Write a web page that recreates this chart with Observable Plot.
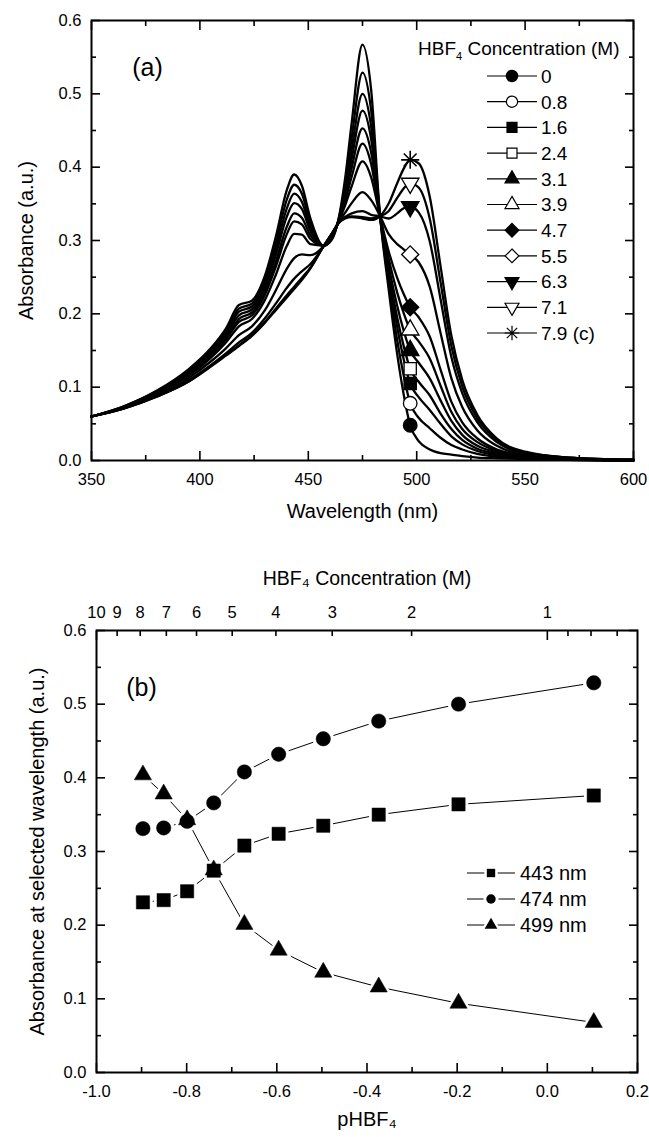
<!DOCTYPE html>
<html><head><meta charset="utf-8">
<script src="https://cdn.jsdelivr.net/npm/d3@7"></script>
<script src="https://cdn.jsdelivr.net/npm/@observablehq/plot@0.6"></script>
<style>
body{margin:0;background:#fff;}
#chart{width:649px;}
#chart svg{display:block;}
</style></head><body><div id="chart"></div>
<script>
// ---------- Panel (a): absorption spectra ----------
const wavelengths = [350, 365, 380, 395, 405, 412, 418, 424, 430, 435, 440, 443.5, 447, 451, 457, 461, 464, 467, 470, 475, 479, 483, 487, 491, 494, 497, 501, 506, 511, 516, 521, 528, 537, 550, 570, 600];
const concLabels = ["0", "0.8", "1.6", "2.4", "3.1", "3.9", "4.7", "5.5", "6.3", "7.1", "7.9 (c)"];
const abs_0_0 = [0.060, 0.074, 0.095, 0.125, 0.153, 0.180, 0.212, 0.218, 0.252, 0.305, 0.368, 0.390, 0.375, 0.330, 0.293, 0.302, 0.330, 0.385, 0.460, 0.567, 0.505, 0.337, 0.235, 0.145, 0.090, 0.048, 0.026, 0.015, 0.010, 0.008, 0.006, 0.004, 0.003, 0.002, 0.001, 0.000];
const abs_0_8 = [0.060, 0.074, 0.094, 0.123, 0.151, 0.177, 0.207, 0.214, 0.246, 0.296, 0.355, 0.376, 0.364, 0.324, 0.293, 0.303, 0.329, 0.376, 0.440, 0.529, 0.477, 0.336, 0.245, 0.164, 0.116, 0.078, 0.058, 0.044, 0.031, 0.021, 0.015, 0.009, 0.005, 0.003, 0.001, 0.000];
const abs_1_6 = [0.060, 0.073, 0.094, 0.122, 0.149, 0.174, 0.203, 0.210, 0.241, 0.288, 0.343, 0.364, 0.353, 0.318, 0.293, 0.304, 0.328, 0.369, 0.424, 0.500, 0.455, 0.336, 0.253, 0.182, 0.138, 0.105, 0.086, 0.069, 0.050, 0.033, 0.022, 0.013, 0.007, 0.004, 0.002, 0.000];
const abs_2_4 = [0.060, 0.073, 0.093, 0.121, 0.147, 0.171, 0.198, 0.206, 0.236, 0.280, 0.332, 0.351, 0.343, 0.313, 0.293, 0.305, 0.328, 0.364, 0.411, 0.477, 0.438, 0.335, 0.260, 0.195, 0.156, 0.125, 0.107, 0.089, 0.064, 0.043, 0.028, 0.016, 0.009, 0.004, 0.002, 0.000];
const abs_3_1 = [0.060, 0.073, 0.092, 0.119, 0.145, 0.167, 0.193, 0.202, 0.230, 0.271, 0.318, 0.337, 0.331, 0.307, 0.293, 0.306, 0.327, 0.359, 0.399, 0.453, 0.420, 0.335, 0.267, 0.211, 0.177, 0.150, 0.133, 0.112, 0.082, 0.054, 0.035, 0.020, 0.011, 0.005, 0.002, 0.000];
const abs_3_9 = [0.060, 0.073, 0.092, 0.118, 0.143, 0.165, 0.189, 0.198, 0.226, 0.264, 0.308, 0.326, 0.322, 0.302, 0.293, 0.307, 0.327, 0.354, 0.387, 0.432, 0.404, 0.335, 0.276, 0.229, 0.201, 0.178, 0.162, 0.139, 0.102, 0.066, 0.043, 0.025, 0.013, 0.006, 0.002, 0.000];
const abs_4_7 = [0.060, 0.072, 0.091, 0.116, 0.140, 0.161, 0.183, 0.193, 0.219, 0.253, 0.292, 0.309, 0.308, 0.295, 0.293, 0.307, 0.326, 0.348, 0.374, 0.408, 0.386, 0.334, 0.286, 0.249, 0.227, 0.209, 0.195, 0.169, 0.124, 0.080, 0.052, 0.030, 0.015, 0.007, 0.002, 0.000];
const abs_5_5 = [0.060, 0.072, 0.089, 0.113, 0.135, 0.153, 0.171, 0.183, 0.205, 0.232, 0.261, 0.276, 0.281, 0.280, 0.292, 0.309, 0.325, 0.338, 0.351, 0.366, 0.355, 0.334, 0.309, 0.295, 0.288, 0.281, 0.270, 0.237, 0.174, 0.112, 0.073, 0.041, 0.020, 0.008, 0.003, 0.001];
const abs_6_3 = [0.060, 0.071, 0.088, 0.110, 0.130, 0.146, 0.161, 0.174, 0.194, 0.214, 0.235, 0.248, 0.258, 0.268, 0.292, 0.310, 0.324, 0.332, 0.337, 0.340, 0.335, 0.333, 0.330, 0.337, 0.344, 0.346, 0.338, 0.299, 0.220, 0.141, 0.092, 0.052, 0.025, 0.010, 0.004, 0.001];
const abs_7_1 = [0.060, 0.071, 0.087, 0.108, 0.129, 0.144, 0.157, 0.171, 0.189, 0.207, 0.225, 0.237, 0.249, 0.263, 0.292, 0.310, 0.324, 0.331, 0.333, 0.332, 0.330, 0.333, 0.340, 0.358, 0.371, 0.378, 0.372, 0.330, 0.243, 0.156, 0.101, 0.057, 0.028, 0.011, 0.004, 0.001];
const abs_7_9 = [0.060, 0.071, 0.087, 0.108, 0.128, 0.143, 0.156, 0.170, 0.188, 0.205, 0.222, 0.234, 0.246, 0.262, 0.292, 0.310, 0.324, 0.330, 0.332, 0.330, 0.328, 0.333, 0.350, 0.378, 0.398, 0.410, 0.405, 0.360, 0.265, 0.170, 0.110, 0.062, 0.030, 0.012, 0.004, 0.001];
const markerWavelength = 497;
const xTicksA = [350, 400, 450, 500, 550, 600];
const xMinorA = [375, 425, 475, 525, 575];
const yTicks = [0, 0.1, 0.2, 0.3, 0.4, 0.5, 0.6];
const yMinor = [0.05, 0.15, 0.25, 0.35, 0.45, 0.55];

// ---------- Panel (b): absorbance vs pHBF4 ----------
const pHBF4 = [-0.897, -0.851, -0.799, -0.740, -0.672, -0.596, -0.497, -0.374, -0.197, 0.103];
const abs443 = [0.231, 0.234, 0.246, 0.274, 0.308, 0.324, 0.335, 0.350, 0.364, 0.376];
const abs474 = [0.331, 0.332, 0.341, 0.366, 0.408, 0.432, 0.453, 0.477, 0.500, 0.529];
const abs499 = [0.404, 0.378, 0.343, 0.275, 0.201, 0.166, 0.136, 0.116, 0.094, 0.068];
const seriesB = ["443 nm", "474 nm", "499 nm"];
const xTicksB = [-1.0, -0.8, -0.6, -0.4, -0.2, 0.0, 0.2];
const xMinorB = [-0.9, -0.7, -0.5, -0.3, -0.1, 0.1];
const topLabelConc = [10, 9, 8, 7, 6, 5, 4, 3, 2, 1];
const topMajorConc = [10, 1];
const topMinorConc = [9, 8, 7, 6, 5, 4, 3, 2, 0.9, 0.8, 0.7];

// ---------- styles ----------
const font = "'Liberation Sans', Arial, Helvetica, sans-serif";
const sqrt3 = Math.sqrt(3);
const triangleDown = {draw(ctx, size) {
  const y = -Math.sqrt(size / (sqrt3 * 3));
  ctx.moveTo(0, -y * 2); ctx.lineTo(-sqrt3 * y, y); ctx.lineTo(sqrt3 * y, y); ctx.closePath();
}};
const star = {draw(ctx, size) {
  const r = Math.sqrt(size) * 0.6, d = r * Math.SQRT1_2;
  ctx.moveTo(0, -r); ctx.lineTo(0, r); ctx.moveTo(-r, 0); ctx.lineTo(r, 0);
  ctx.moveTo(-d, -d); ctx.lineTo(d, d); ctx.moveTo(-d, d); ctx.lineTo(d, -d);
}};
const symA = ["circle", "circle", "square", "square", "triangle", "triangle", "diamond2", "diamond2", triangleDown, triangleDown, star];
const d3SymA = [d3.symbolCircle, d3.symbolCircle, d3.symbolSquare, d3.symbolSquare, d3.symbolTriangle, d3.symbolTriangle, d3.symbolDiamond2, d3.symbolDiamond2, triangleDown, triangleDown, star];
const filledA = [true, false, true, false, true, false, true, false, true, false, null];
const rA = [6.8, 6.8, 6.9, 6.9, 6.5, 6.5, 7.7, 7.7, 6.5, 6.5, 8.5];
const symB = ["square", "circle", "triangle"];
const d3SymB = [d3.symbolSquare, d3.symbolCircle, d3.symbolTriangle];
const rB = [7.5, 7.2, 6.4];
const fmt1 = d => d3.format(".1f")(d).replace("\u2212", "-");

const spectra = [abs_0_0, abs_0_8, abs_1_6, abs_2_4, abs_3_1, abs_3_9, abs_4_7, abs_5_5, abs_6_3, abs_7_1, abs_7_9];
const spectraRows = spectra.flatMap((arr, k) => arr.map((a, i) => ({series: k, nm: wavelengths[i], A: a})));
const iMark = wavelengths.indexOf(markerWavelength);
const markerRows = spectra.map((arr, k) => ({series: k, nm: markerWavelength, A: arr[iMark]}));

function inwardX(major, minor, anchorList) {
  return anchorList.flatMap(anchor => [
    Plot.axisX({anchor, ticks: major, tickSize: -9, tickFormat: () => "", label: null, strokeWidth: 1.6}),
    Plot.axisX({anchor, ticks: minor, tickSize: -5, tickFormat: () => "", label: null, strokeWidth: 1.6})
  ]);
}
function inwardY(major, minor) {
  return ["left", "right"].flatMap(anchor => [
    Plot.axisY({anchor, ticks: major, tickSize: -9, tickFormat: () => "", label: null, strokeWidth: 1.6}),
    Plot.axisY({anchor, ticks: minor, tickSize: -5, tickFormat: () => "", label: null, strokeWidth: 1.6})
  ]);
}

function legendA(index, scales, values, dims) {
  const right = dims.width - dims.marginRight, top = dims.marginTop;
  const g = d3.create("svg:g").attr("font-family", font).attr("font-size", 19).attr("fill", "black").attr("text-anchor", "start");
  const t = g.append("text").attr("x", right - 215).attr("y", top + 35);
  t.append("tspan").text("HBF");
  t.append("tspan").attr("font-size", 11).attr("dy", 5).text("4");
  t.append("tspan").attr("dy", -5).text(" Concentration (M)");
  concLabels.forEach((lab, k) => {
    const y = top + 56 + 25.7 * k;
    g.append("line").attr("x1", right - 146).attr("x2", right - 96).attr("y1", y).attr("y2", y).attr("stroke", "black").attr("stroke-width", 1.2);
    const size = k === 10 ? 150 : (k >= 4 && k <= 5) || k >= 8 ? 85 : (k === 6 || k === 7) ? 120 : 100;
    g.append("path").attr("transform", `translate(${right - 121},${y})`)
      .attr("d", d3.symbol(d3SymA[k], size)())
      .attr("fill", filledA[k] === null ? "none" : filledA[k] ? "black" : "white")
      .attr("stroke", "black").attr("stroke-width", 1.2);
    g.append("text").attr("x", right - 92).attr("y", y).attr("dy", "0.36em").text(lab);
  });
  return g.node();
}

const plotA = Plot.plot({
  width: 649, height: 540,
  marginLeft: 91, marginRight: 16, marginTop: 20, marginBottom: 80,
  style: {fontFamily: font, fontSize: "16.5px", color: "black", background: "white"},
  x: {domain: [350, 600]},
  y: {domain: [0, 0.6]},
  marks: [
    Plot.line(spectraRows, {x: "nm", y: "A", z: "series", stroke: "black", strokeWidth: 2.3, curve: "monotone-x"}),
    ...markerRows.map((row, k) => Plot.dot([row], {
      x: "nm", y: "A", symbol: symA[k], r: rA[k],
      fill: filledA[k] === null ? "none" : filledA[k] ? "black" : "white",
      stroke: "black", strokeWidth: filledA[k] === null ? 1.6 : 1.3
    })),
    Plot.frame({stroke: "black", strokeWidth: 2}),
    ...inwardX(xTicksA, xMinorA, ["bottom", "top"]),
    ...inwardY(yTicks, yMinor),
    Plot.axisX({anchor: "bottom", ticks: xTicksA, tickSize: 0, tickPadding: 13, label: null, tickFormat: d3.format("d")}),
    Plot.axisY({anchor: "left", ticks: yTicks, tickSize: 0, tickPadding: 10, label: null, tickFormat: fmt1}),
    Plot.text(["(a)"], {text: d => d, frameAnchor: "top-left", dx: 56, dy: 38, fontSize: 25, textAnchor: "middle"}),
    Plot.text(["Wavelength (nm)"], {text: d => d, frameAnchor: "bottom", dy: 57, fontSize: 20, textAnchor: "middle"}),
    Plot.text(["Absorbance (a.u.)"], {text: d => d, frameAnchor: "left", dx: -65, rotate: -90, fontSize: 20, textAnchor: "middle"}),
    legendA
  ]
});

// ---------- Panel (b) ----------
const valuesB = [abs443, abs474, abs499];
const rowsB = valuesB.map(vals => pHBF4.map((p, i) => ({p, A: vals[i]})));

function legendB(index, scales, values, dims) {
  const right = dims.width - dims.marginRight, top = dims.marginTop;
  const g = d3.create("svg:g").attr("font-family", font).attr("font-size", 20).attr("fill", "black").attr("text-anchor", "start");
  seriesB.forEach((lab, k) => {
    const y = top + 243 + 26 * k;
    g.append("line").attr("x1", right - 170).attr("x2", right - 122).attr("y1", y).attr("y2", y).attr("stroke", "black").attr("stroke-width", 1);
    g.append("path").attr("transform", `translate(${right - 146},${y})`)
      .attr("d", d3.symbol(d3SymB[k], 180)()).attr("fill", "white");
    g.append("path").attr("transform", `translate(${right - 146},${y})`)
      .attr("d", d3.symbol(d3SymB[k], 70)()).attr("fill", "black");
    g.append("text").attr("x", right - 117).attr("y", y).attr("dy", "0.36em").text(lab);
  });
  return g.node();
}

const toP = c => -Math.log10(c);
const plotB = Plot.plot({
  width: 649, height: 597,
  marginLeft: 96, marginRight: 12, marginTop: 90, marginBottom: 65,
  style: {fontFamily: font, fontSize: "16.5px", color: "black", background: "white"},
  x: {domain: [-1.0, 0.2]},
  y: {domain: [0, 0.6]},
  marks: [
    ...rowsB.map(rows => Plot.line(rows, {x: "p", y: "A", stroke: "black", strokeWidth: 1})),
    ...rowsB.map((rows, k) => Plot.dot(rows, {x: "p", y: "A", symbol: symB[k], r: rB[k] + 3.5, fill: "white", stroke: "none"})),
    ...rowsB.map((rows, k) => Plot.dot(rows, {x: "p", y: "A", symbol: symB[k], r: rB[k], fill: "black", stroke: "black", strokeWidth: 0.5})),
    Plot.frame({stroke: "black", strokeWidth: 2}),
    ...inwardX(xTicksB, xMinorB, ["bottom"]),
    Plot.axisX({anchor: "top", ticks: topMajorConc.map(toP), tickSize: -9, tickFormat: () => "", label: null, strokeWidth: 1.6}),
    Plot.axisX({anchor: "top", ticks: topMinorConc.map(toP), tickSize: -5, tickFormat: () => "", label: null, strokeWidth: 1.6}),
    ...inwardY(yTicks, yMinor),
    Plot.axisX({anchor: "bottom", ticks: xTicksB, tickSize: 0, tickPadding: 13, label: null, tickFormat: fmt1}),
    Plot.axisX({anchor: "top", ticks: topLabelConc.map(toP), tickSize: 0, tickPadding: 13, label: null, tickFormat: d => String(Math.round(Math.pow(10, -d)))}),
    Plot.axisY({anchor: "left", ticks: yTicks, tickSize: 0, tickPadding: 10, label: null, tickFormat: fmt1}),
    Plot.text(["(b)"], {text: d => d, frameAnchor: "top-left", dx: 45, dy: 48, fontSize: 25, textAnchor: "middle"}),
    Plot.text(["pHBF₄"], {text: d => d, frameAnchor: "bottom", dy: 53, fontSize: 20, textAnchor: "middle"}),
    Plot.text(["HBF₄ Concentration (M)"], {text: d => d, frameAnchor: "top", dy: -59, fontSize: 19.5, textAnchor: "middle"}),
    Plot.text(["Absorbance at selected wavelength (a.u.)"], {text: d => d, frameAnchor: "left", dx: -59, rotate: -90, fontSize: 20, textAnchor: "middle"}),
    legendB
  ]
});

const root = document.getElementById("chart");
root.appendChild(plotA);
root.appendChild(plotB);
</script></body></html>
